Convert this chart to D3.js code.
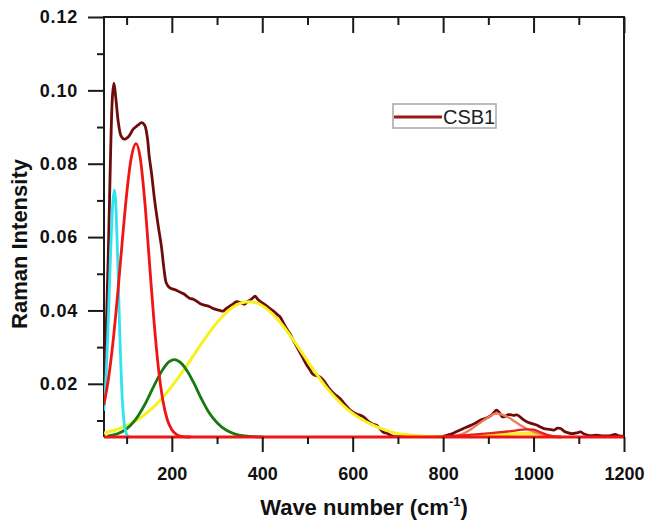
<!DOCTYPE html>
<html>
<head>
<meta charset="utf-8">
<script src="https://cdn.jsdelivr.net/npm/d3@7"></script>
<style>
  html, body { margin: 0; padding: 0; background: #fff; }
  svg { display: block; }
  text { font-family: "Liberation Sans", Arial, sans-serif; fill: #111; }
</style>
</head>
<body>
<svg id="chart" width="649" height="523"></svg>
<script>
// ---- data ----
const xMajorTicks = [200, 400, 600, 800, 1000, 1200];
const xMinorTicks = [100, 300, 500, 700, 900, 1100];
const yMajorTicks = [0.02, 0.04, 0.06, 0.08, 0.10, 0.12];
const yMinorTicks = [0.01, 0.03, 0.05, 0.07, 0.09, 0.11];
const xDomain = [50, 1200];
const yDomain = [0.0055, 0.12];
const legendLabel = "CSB1";

// measured spectrum CSB1: [wave number, intensity]
const csb1 = [
  [50,0.020],[55,0.035],[60,0.058],[65,0.085],[69,0.099],[72,0.102],[76,0.098],[82,0.091],
  [88,0.0875],[95,0.0867],[105,0.0875],[115,0.0895],[125,0.0905],[133,0.0912],[140,0.0905],
  [146,0.087],[150,0.082],[155,0.0775],[162,0.070],[170,0.063],[177,0.0574],[183,0.051],
  [188,0.0474],[195,0.0462],[203,0.0458],[210,0.0455],[218,0.0450],[225,0.0446],[232,0.0440],
  [239,0.0433],[247,0.0431],[255,0.0425],[262,0.0419],[270,0.0415],[277,0.0413],[284,0.0410],
  [292,0.0405],[299,0.0402],[306,0.0400],[313,0.0398],[320,0.0405],[328,0.0412],[336,0.0418],
  [343,0.0424],[350,0.0422],[356,0.0419],[361,0.0417],[367,0.0424],[373,0.0428],[379,0.0434],
  [384,0.0439],[389,0.0432],[395,0.0425],[402,0.0419],[410,0.0412],[418,0.0404],[425,0.0398],
  [432,0.0390],[439,0.0383],[446,0.0368],[453,0.0352],[461,0.0337],[468,0.0320],[476,0.0302],
  [484,0.0284],[491,0.0268],[498,0.0252],[506,0.0237],[512,0.0226],[520,0.0222],[528,0.0218],
  [535,0.0210],[543,0.0196],[550,0.0184],[557,0.0175],[565,0.0167],[572,0.0160],[580,0.0148],
  [587,0.0138],[595,0.0128],[602,0.0122],[610,0.0117],[617,0.0114],[624,0.0110],[631,0.0102],
  [638,0.0095],[645,0.0090],[653,0.0087],[660,0.0078],[668,0.0068],[676,0.0065],[683,0.0060],
  [690,0.0057],[700,0.0056],[750,0.0056],[800,0.0057],[816,0.0062],[830,0.0070],[845,0.0078],
  [860,0.0086],[872,0.0093],[883,0.0101],[895,0.0106],[905,0.0113],[912,0.0121],[918,0.0128],
  [924,0.0122],[931,0.0110],[938,0.0112],[944,0.0116],[949,0.0116],[955,0.0114],[964,0.0115],
  [972,0.0108],[979,0.0101],[986,0.0096],[995,0.0092],[1008,0.0087],[1015,0.0082],[1023,0.0078],
  [1035,0.0076],[1045,0.0074],[1053,0.0079],[1060,0.0078],[1068,0.0070],[1075,0.0067],
  [1085,0.0064],[1095,0.0066],[1104,0.0069],[1112,0.0063],[1125,0.0059],[1140,0.0060],
  [1155,0.0058],[1170,0.0059],[1180,0.0062],[1190,0.0058],[1200,0.0057]
];

// fitted component peaks
const peakYellow = [
  [50,0.0066],[75,0.0074],[100,0.0086],[125,0.0102],[150,0.0126],[175,0.0156],[200,0.0193],
  [225,0.0235],[250,0.0281],[275,0.0326],[300,0.0367],[325,0.0399],[350,0.0419],[370,0.0424],
  [390,0.0419],[415,0.0399],[440,0.0367],[465,0.0326],[490,0.0281],[515,0.0235],[540,0.0193],
  [565,0.0158],[590,0.0129],[615,0.0107],[640,0.0090],[665,0.0077],[690,0.0067],[720,0.0061],
  [760,0.0057],[800,0.0055]
];
const peakYellowSmall = [
  [860,0.0055],[890,0.0057],[920,0.0060],[950,0.0063],[985,0.0065],[1010,0.0063],
  [1035,0.0058],[1060,0.0055]
];
const peakGreen = [
  [60,0.0058],[80,0.0064],[100,0.0077],[120,0.0103],[140,0.0143],[160,0.0193],[180,0.0239],
  [195,0.0261],[206,0.0266],[220,0.0257],[235,0.0233],[250,0.0199],[265,0.0160],[280,0.0126],
  [300,0.0094],[320,0.0074],[340,0.0063],[360,0.0058],[380,0.0056],[400,0.0055]
];
const peakCyan = [
  [50,0.0130],[55,0.0231],[60,0.0390],[65,0.0572],[69,0.0685],[73,0.0728],[77,0.0665],
  [81,0.0509],[85,0.0332],[89,0.0194],[93,0.0112],[97,0.0074],[101,0.0060],[106,0.0055]
];
const peakRed = [
  [50,0.0145],[60,0.0215],[70,0.0315],[80,0.0442],[90,0.0583],[100,0.0716],[110,0.0814],
  [121,0.0855],[130,0.0817],[140,0.0700],[150,0.0540],[160,0.0379],[170,0.0247],[180,0.0156],
  [190,0.0102],[200,0.0075],[210,0.0062],[220,0.0057],[240,0.0055]
];
const peakSalmon = [
  [820,0.0056],[840,0.0062],[860,0.0075],[880,0.0092],[900,0.0109],[916,0.0119],[930,0.0116],
  [945,0.0108],[960,0.0096],[975,0.0084],[990,0.0074],[1005,0.0067],[1022,0.0062],
  [1040,0.0057],[1060,0.0055]
];
const peakRedSmall = [
  [800,0.0056],[850,0.0060],[900,0.0065],[950,0.0071],[985,0.0076],[1000,0.0075],
  [1015,0.0068],[1030,0.0061],[1045,0.0057],[1060,0.0055]
];
const baseline = [[50,0.0055],[1200,0.0055]];

// ---- layout ----
const svg = d3.select("#chart");
const margin = {left: 104, top: 17, right: 25, bottom: 86};
const W = 649, H = 523;
const iw = W - margin.left - margin.right;   // 520
const ih = H - margin.top - margin.bottom;   // 420

const x = d3.scaleLinear().domain(xDomain).range([0, iw]);
const y = d3.scaleLinear().domain(yDomain).range([ih, 0]);

const g = svg.append("g").attr("transform", `translate(${margin.left},${margin.top})`);

g.append("defs").append("clipPath").attr("id", "clip")
  .append("rect").attr("x", 0).attr("y", -2).attr("width", iw).attr("height", ih + 5);

const line = d3.line().x(d => x(d[0])).y(d => y(d[1]));
const smooth = d3.line().x(d => x(d[0])).y(d => y(d[1])).curve(d3.curveMonotoneX);

const plot = g.append("g").attr("clip-path", "url(#clip)");

function draw(data, color, gen, width) {
  plot.append("path").datum(data)
    .attr("fill", "none").attr("stroke", color)
    .attr("stroke-width", width).attr("stroke-linejoin", "round").attr("stroke-linecap", "round")
    .attr("d", gen);
}

draw(csb1, "#6e0c0c", d3.line().x(d => x(d[0])).y(d => y(d[1])).curve(d3.curveCatmullRom), 2.8);
draw(peakYellow, "#f6f21e", smooth, 3);
draw(peakYellowSmall, "#f6f21e", smooth, 3);
draw(peakGreen, "#167a10", smooth, 2.8);
draw(peakCyan, "#2ee4f0", smooth, 2.8);
draw(peakRed, "#f01414", smooth, 2.8);
draw(peakSalmon, "#f07a5c", smooth, 2.3);
draw(peakRedSmall, "#e8201a", smooth, 2.3);

// ---- axes ----
function styleAxis(sel) {
  sel.select(".domain").remove();
  sel.selectAll("line").attr("stroke", "#1a1a1a").attr("stroke-width", 2);
  sel.selectAll("text").style("font-family", '"Liberation Sans", Arial, sans-serif')
    .style("font-weight", "bold").style("fill", "#111");
}

// bottom
const bMaj = g.append("g").attr("transform", `translate(0,${ih})`)
  .call(d3.axisBottom(x).tickValues(xMajorTicks).tickSize(15).tickPadding(15)
    .tickFormat(d3.format("d")));
styleAxis(bMaj);
bMaj.selectAll("text").style("font-size", "18px");
const bMin = g.append("g").attr("transform", `translate(0,${ih})`)
  .call(d3.axisBottom(x).tickValues(xMinorTicks).tickSize(7).tickFormat(""));
styleAxis(bMin);

// top (ticks pointing inward, no labels)
const tMaj = g.append("g").call(d3.axisBottom(x).tickValues(xMajorTicks).tickSize(16).tickFormat(""));
styleAxis(tMaj);
const tMin = g.append("g").call(d3.axisBottom(x).tickValues(xMinorTicks).tickSize(8).tickFormat(""));
styleAxis(tMin);

// left
const lMaj = g.append("g")
  .call(d3.axisLeft(y).tickValues(yMajorTicks).tickSize(16).tickPadding(10)
    .tickFormat(d3.format(".2f")));
styleAxis(lMaj);
lMaj.selectAll("text").style("font-size", "18px").style("letter-spacing", "0.8px");
const lMin = g.append("g")
  .call(d3.axisLeft(y).tickValues(yMinorTicks).tickSize(7).tickFormat(""));
styleAxis(lMin);

// frame (drawn before baseline so red sits on top)
g.insert("path", ":first-child")
  .attr("d", `M0,${ih}V0H${iw}V${ih}H0`)
  .attr("fill", "none").attr("stroke", "#1a1a1a").attr("stroke-width", 2);

// red baseline on top of the bottom axis
plot.append("path").datum(baseline)
  .attr("fill", "none").attr("stroke", "#f01414").attr("stroke-width", 3).attr("d", line);

// ---- axis titles ----
const xt = svg.append("text")
  .attr("x", margin.left + iw / 2).attr("y", 515)
  .attr("text-anchor", "middle")
  .style("font-size", "22px").style("font-weight", "bold");
xt.append("tspan").text("Wave number (cm");
xt.append("tspan").attr("dy", -9).style("font-size", "13px").text("-1");
xt.append("tspan").attr("dy", 9).text(")");

svg.append("text")
  .attr("transform", "translate(27,244) rotate(-90)")
  .attr("text-anchor", "middle")
  .style("font-size", "22px").style("font-weight", "bold")
  .text("Raman Intensity");

// ---- legend ----
const lg = svg.append("g");
lg.append("rect").attr("x", 393).attr("y", 104).attr("width", 103).attr("height", 24)
  .attr("fill", "#fff").attr("stroke", "#a8a8a8").attr("stroke-width", 1.5);
lg.append("line").attr("x1", 394).attr("x2", 442).attr("y1", 117).attr("y2", 117)
  .attr("stroke", "#9a1818").attr("stroke-width", 3);
lg.append("text").attr("x", 443).attr("y", 124)
  .style("font-size", "20px").style("fill", "#222").text(legendLabel);
</script>
</body>
</html>
